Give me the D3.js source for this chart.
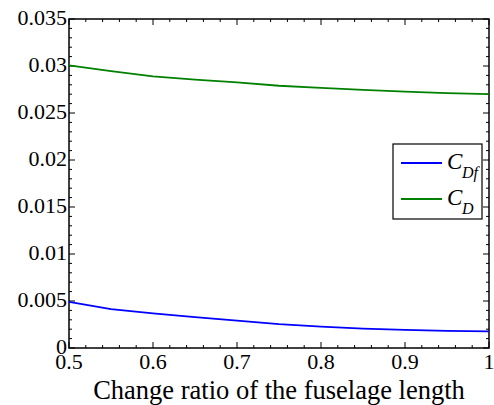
<!DOCTYPE html>
<html><head><meta charset="utf-8">
<script src="https://cdn.jsdelivr.net/npm/d3@7"></script>
<style>body{margin:0;background:#fff}</style>
</head><body>
<svg id="c" width="494" height="405"></svg>
<script>
const xs = [0.5,0.55,0.6,0.65,0.7,0.75,0.8,0.85,0.9,0.95,1.0];
const CD  = [0.03007,0.02945,0.0289,0.02855,0.02825,0.0279,0.02768,0.02746,0.02727,0.02712,0.027];
const CDf = [0.0049,0.00414,0.00368,0.00328,0.00292,0.00254,0.00228,0.00206,0.00192,0.00182,0.00177];
const xTicks = [0.5,0.6,0.7,0.8,0.9,1.0];
const yTicks = [0,0.005,0.01,0.015,0.02,0.025,0.03,0.035];

const svg = d3.select('#c');
const L=69,R=489,T=19,B=348;
const x = d3.scaleLinear().domain([0.5,1]).range([L,R]);
const y = d3.scaleLinear().domain([0,0.035]).range([B,T]);
const font = "'Times New Roman', 'Liberation Serif', Tinos, Times, 'DejaVu Serif', serif";

// ticks (inward, all four sides)
const xMinor = d3.range(0.5,1.0001,0.02);
const yMinor = d3.range(0,0.03501,0.001);
const g = svg.append('g').attr('stroke','#000').attr('stroke-width',1);
xMinor.forEach(v=>{
  const major = xTicks.some(t=>Math.abs(t-v)<1e-6);
  const len = major?6:3;
  g.append('line').attr('x1',x(v)).attr('x2',x(v)).attr('y1',B).attr('y2',B-len);
  g.append('line').attr('x1',x(v)).attr('x2',x(v)).attr('y1',T).attr('y2',T+len);
});
yMinor.forEach(v=>{
  const major = yTicks.some(t=>Math.abs(t-v)<1e-7);
  const len = major?6:3;
  g.append('line').attr('y1',y(v)).attr('y2',y(v)).attr('x1',L).attr('x2',L+len);
  g.append('line').attr('y1',y(v)).attr('y2',y(v)).attr('x1',R).attr('x2',R-len);
});
svg.append('rect').attr('x',L).attr('y',T).attr('width',R-L).attr('height',B-T)
  .attr('fill','none').attr('stroke','#000').attr('stroke-width',1.5);

// tick labels
svg.append('g').selectAll('text').data(yTicks).join('text')
  .attr('x',L-2).attr('y',d=>y(d)+6).attr('text-anchor','end')
  .style('font-family',font).style('font-size','22px').text(d=>d===0?'0':String(+d.toFixed(3)));
svg.append('g').selectAll('text').data(xTicks).join('text')
  .attr('x',d=>x(d)).attr('y',369).attr('text-anchor','middle')
  .style('font-family',font).style('font-size','22px').text(d=>d===1?'1':String(d));
svg.append('text').attr('x',279).attr('y',399).attr('text-anchor','middle')
  .style('font-family',font).style('font-size','26.5px').text('Change ratio of the fuselage length');

// lines
const line = d3.line().x((d,i)=>x(xs[i])).y(d=>y(d));
svg.append('path').datum(CD).attr('d',line).attr('fill','none').attr('stroke','#008000').attr('stroke-width',1.8);
svg.append('path').datum(CDf).attr('d',line).attr('fill','none').attr('stroke','#0000ff').attr('stroke-width',1.8);

// legend
const lg = svg.append('g');
lg.append('rect').attr('x',393).attr('y',144).attr('width',89).attr('height',75)
  .attr('fill','#fff').attr('stroke','#000').attr('stroke-width',1.2);
const items=[{c:'#0000ff',s:'Df',y:163},{c:'#008000',s:'D',y:199}];
items.forEach(it=>{
  lg.append('line').attr('x1',401).attr('x2',442).attr('y1',it.y).attr('y2',it.y).attr('stroke',it.c).attr('stroke-width',1.8);
  lg.append('text').attr('x',447).attr('y',it.y+6).style('font-family',font).style('font-style','italic').style('font-size','23px').text('C');
  lg.append('text').attr('x',462).attr('y',it.y+15).style('font-family',font).style('font-style','italic').style('font-size','16px').text(it.s);
});
</script>
</body></html>
